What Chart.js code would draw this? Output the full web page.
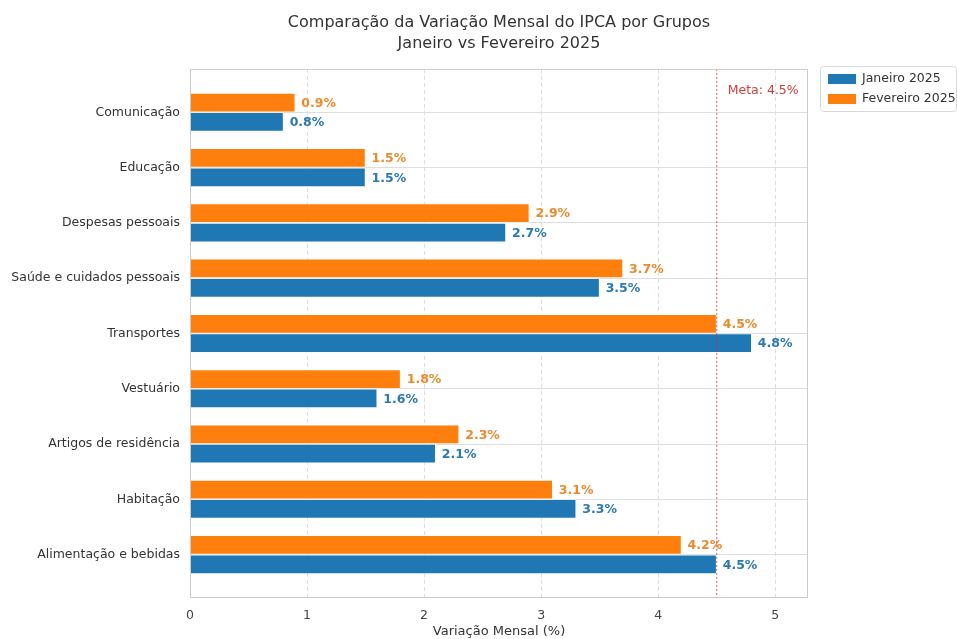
<!DOCTYPE html>
<html>
<head>
<meta charset="utf-8">
<script src="https://cdn.jsdelivr.net/npm/chart.js@4/dist/chart.umd.min.js"></script>
<style>
  html, body { margin: 0; padding: 0; background: #fff; }
  #wrap { width: 957px; height: 639px; }
</style>
</head>
<body>
<div id="wrap"><canvas id="myChart" width="957" height="639"></canvas></div>
<script>
// categories bottom -> top (same order as the original axis)
var categories = ["Alimentação e bebidas", "Habitação", "Artigos de residência", "Vestuário",
  "Transportes", "Saúde e cuidados pessoais", "Despesas pessoais", "Educação", "Comunicação"];
var janeiro = [4.5, 3.3, 2.1, 1.6, 4.8, 3.5, 2.7, 1.5, 0.8];
var fevereiro = [4.2, 3.1, 2.3, 1.8, 4.5, 3.7, 2.9, 1.5, 0.9];
var xTicks = [0, 1, 2, 3, 4, 5];
var meta = 4.5;

var blue = "#1f77b4", orange = "#ff7f0e";
var font = "'DejaVu Sans', sans-serif";

function points(arr) {
  return arr.map(function (v, i) { return { x: v, y: i }; });
}

// value labels at bar ends
var valueLabels = {
  id: "valueLabels",
  afterDatasetsDraw: function (chart) {
    var c = chart.ctx;
    c.save();
    c.font = "bold 12.5px " + font;
    c.textBaseline = "middle";
    c.textAlign = "left";
    chart.data.datasets.forEach(function (ds, di) {
      var m = chart.getDatasetMeta(di);
      m.data.forEach(function (bar, i) {
        c.fillStyle = ds.labelColor;
        c.fillText(ds.data[i].x.toFixed(1) + "%", bar.x + 6, bar.y + 1);
      });
    });
    c.restore();
  }
};

// frame, meta line, legend
var extras = {
  id: "extras",
  afterDatasetsDraw: function (chart) {
    var c = chart.ctx, a = chart.chartArea;
    var x = chart.scales.x.getPixelForValue(meta);
    c.save();
    c.strokeStyle = "rgba(214,39,40,0.75)";
    c.lineWidth = 1;
    c.setLineDash([2, 2]);
    c.beginPath();
    c.moveTo(x, a.top);
    c.lineTo(x, a.bottom);
    c.stroke();
    c.setLineDash([]);
    c.fillStyle = "#d23a3a";
    c.font = "12.5px " + font;
    c.textBaseline = "middle";
    c.fillText("Meta: " + meta + "%", x + 11, a.top + 22);

    c.strokeStyle = "#cccccc";
    c.strokeRect(a.left + 0.5, a.top + 0.5, a.right - a.left - 1, a.bottom - a.top - 1);
    c.restore();
  },
  afterDraw: function (chart) {
    var c = chart.ctx;
    var lx = 820, ly = 66, lw = 136, lh = 45;
    c.save();
    c.fillStyle = "#fff";
    c.strokeStyle = "#d8d8d8";
    c.lineWidth = 1;
    c.beginPath();
    c.roundRect(lx + 0.5, ly + 0.5, lw, lh, 3);
    c.fill();
    c.stroke();
    var items = [chart.data.datasets[1], chart.data.datasets[0]];
    c.font = "12.5px " + font;
    c.textBaseline = "middle";
    items.forEach(function (ds, i) {
      var y = ly + 13 + i * 20;
      c.fillStyle = ds.backgroundColor;
      c.fillRect(lx + 8, y - 5, 28, 10);
      c.fillStyle = "#333";
      c.fillText(ds.label, lx + 42, y);
    });
    c.restore();
  }
};

var ctx = document.getElementById("myChart");
var myChart = new Chart(ctx, {
  type: "bar",
  data: {
    datasets: [
      {
        label: "Fevereiro 2025",
        data: points(fevereiro),
        backgroundColor: orange,
        borderColor: "rgba(255,255,255,0.7)",
        borderWidth: 0.8,
        labelColor: "#ec8a2c"
      },
      {
        label: "Janeiro 2025",
        data: points(janeiro),
        backgroundColor: blue,
        borderColor: "rgba(255,255,255,0.7)",
        borderWidth: 0.8,
        labelColor: "#2b79b2"
      }
    ]
  },
  options: {
    indexAxis: "y",
    responsive: false,
    animation: false,
    categoryPercentage: 0.7,
    barPercentage: 1,
    layout: { padding: { left: 0, right: 149, top: 0, bottom: 0 } },
    plugins: {
      legend: { display: false },
      tooltip: { enabled: false },
      title: {
        display: true,
        fullSize: false,
        text: ["Comparação da Variação Mensal do IPCA por Grupos", "Janeiro vs Fevereiro 2025"],
        color: "#333",
        font: { family: font, size: 16, weight: "normal", lineHeight: 1.31 },
        padding: { top: 12, bottom: 15 }
      }
    },
    scales: {
      x: {
        type: "linear",
        min: 0,
        max: 5.28,
        afterBuildTicks: function (s) {
          s.ticks = xTicks.map(function (v) { return { value: v }; });
        },
        afterFit: function (s) { s.height = 41; },
        grid: { color: "#dddddd", drawTicks: false, tickLength: 0 },
        border: { display: false, dash: [4, 3] },
        ticks: { color: "#444", padding: 10, font: { family: font, size: 12.5 } },
        title: {
          display: true,
          text: "Variação Mensal (%)",
          color: "#333",
          font: { family: font, size: 13 },
          padding: { top: 0, bottom: 0 }
        }
      },
      y: {
        type: "linear",
        min: -0.785,
        max: 8.785,
        offset: false,
        afterBuildTicks: function (s) {
          s.ticks = categories.map(function (_, i) { return { value: i }; });
        },
        afterFit: function (s) { s.width = 190; },
        grid: { color: "#dddddd", drawTicks: false, tickLength: 0, offset: false },
        border: { display: false },
        ticks: {
          color: "#333",
          padding: 10,
          font: { family: font, size: 12.5 },
          callback: function (v) { return categories[v]; }
        }
      }
    }
  },
  plugins: [valueLabels, extras]
});
</script>
</body>
</html>
